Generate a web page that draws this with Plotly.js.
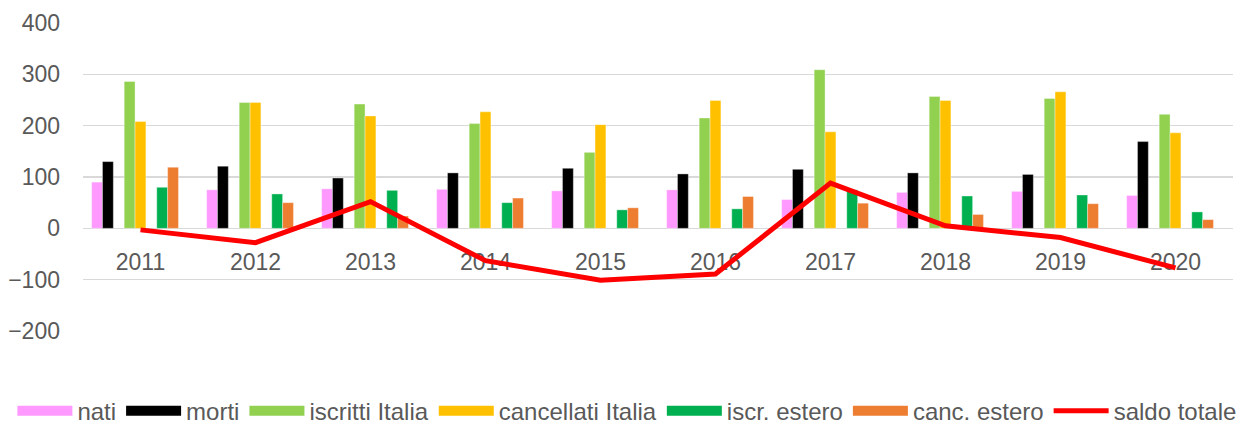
<!DOCTYPE html>
<html>
<head>
<meta charset="utf-8">
<script src="https://cdn.plot.ly/plotly-3.0.1.min.js"></script>
<style>html,body{margin:0;padding:0;background:#fff;}#chart{width:1258px;height:425px;}</style>
</head>
<body>
<div id="chart"></div>
<script>
const years = ['2011','2012','2013','2014','2015','2016','2017','2018','2019','2020'];
const nati = [90, 75, 77, 76, 73, 75, 56, 70, 72, 64];
const morti = [130, 121, 98, 108, 117, 106, 115, 108, 105, 169];
const iscrittiItalia = [286, 245, 242, 204, 148, 215, 309, 257, 253, 222];
const cancellatiItalia = [208, 245, 219, 227, 202, 249, 188, 249, 266, 186];
const iscrEstero = [80, 67, 74, 50, 36, 38, 75, 63, 65, 32];
const cancEstero = [119, 50, 24, 59, 40, 62, 49, 27, 48, 17];
const saldoTotale = [-3, -28, 52, -63, -101, -89, 88, 5, -18, -77];

const slotW = 0.0944;
const start = -0.425;
const barSeries = [
  {name: 'nati', y: nati, color: '#FF99FF', slot: 0},
  {name: 'morti', y: morti, color: '#000000', slot: 1},
  {name: 'iscritti Italia', y: iscrittiItalia, color: '#92D050', slot: 3},
  {name: 'cancellati Italia', y: cancellatiItalia, color: '#FFC000', slot: 4},
  {name: 'iscr. estero', y: iscrEstero, color: '#00B050', slot: 6},
  {name: 'canc. estero', y: cancEstero, color: '#ED7D31', slot: 7}
];
const data = [];
barSeries.forEach(s => {
  data.push({
    type: 'bar', name: s.name, x: years, y: s.y, showlegend: false,
    marker: {color: s.color, line: {color: 'rgba(255,255,255,0.6)', width: 0.6}},
    width: slotW, offset: start + s.slot * slotW, hoverinfo: 'name+y'
  });
});
// legend swatches (wide rectangles like the original legend keys)
barSeries.forEach(s => {
  data.push({
    type: 'scatter', mode: 'lines', name: s.name, x: years, y: years.map(() => null),
    line: {color: s.color, width: 10}, hoverinfo: 'skip', showlegend: true
  });
});
data.push({type: 'scatter', mode: 'lines', name: 'saldo totale', x: years, y: saldoTotale,
   line: {color: '#FF0000', width: 5}});

const font = {family: 'Liberation Sans, Arial, sans-serif', color: '#595959', size: 23};
const layout = {
  width: 1258, height: 425,
  margin: {l: 83, r: 25, t: 23, b: 94, autoexpand: false},
  paper_bgcolor: '#ffffff', plot_bgcolor: '#ffffff',
  barmode: 'overlay',
  showlegend: true,
  font: font,
  xaxis: {
    type: 'category', anchor: 'free', position: 1/3,
    showline: false, showgrid: false, zeroline: false, ticks: '',
    tickfont: font, ticklabelstandoff: 18, layer: 'below traces', fixedrange: true
  },
  yaxis: {
    range: [-200, 400], dtick: 100, domain: [0, 1],
    showgrid: true, gridcolor: '#D9D9D9', gridwidth: 1.5,
    zeroline: true, zerolinecolor: '#D9D9D9', zerolinewidth: 1.5,
    showline: false, ticks: '', tickfont: font, ticklabelstandoff: 22,
    layer: 'below traces', fixedrange: true
  },
  legend: {
    orientation: 'h',
    x: -0.0614, xanchor: 'left', y: -0.26, yanchor: 'middle',
    font: {family: 'Liberation Sans, Arial, sans-serif', color: '#595959', size: 24},
    itemwidth: 55, traceorder: 'normal', bgcolor: 'rgba(0,0,0,0)'
  }
};
Plotly.newPlot('chart', data, layout, {displayModeBar: false, staticPlot: true});
</script>
</body>
</html>
